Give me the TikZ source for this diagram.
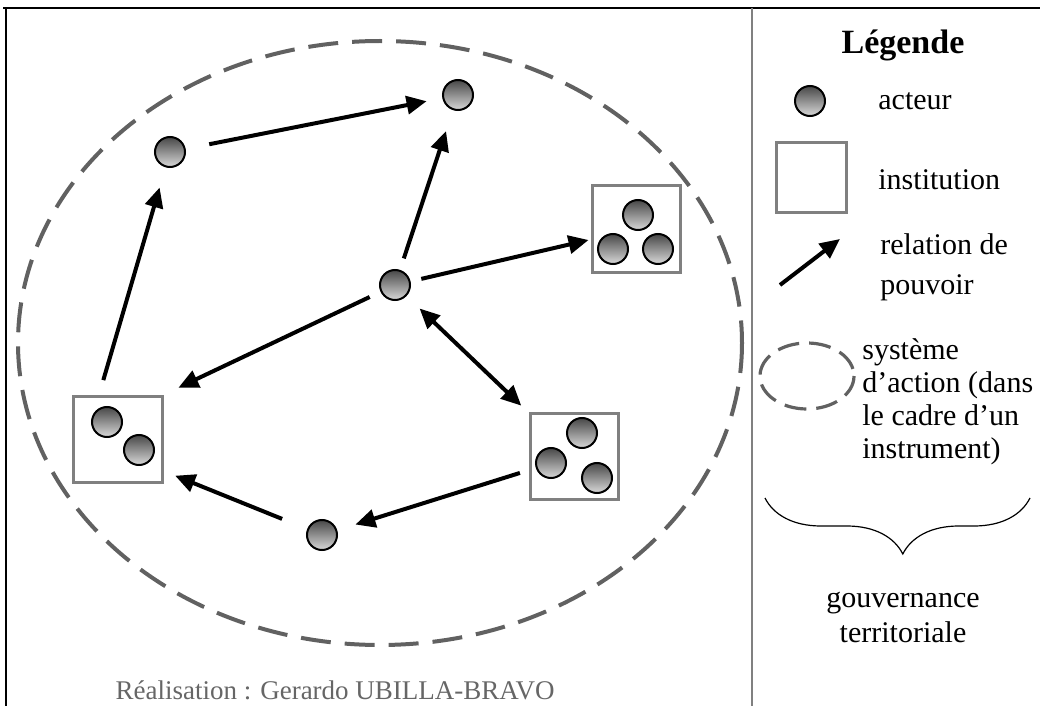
\documentclass[tikz,border=0pt]{standalone}
\usepackage{fontspec}
\setmainfont{Liberation Serif}
\usetikzlibrary{arrows.meta,decorations.pathreplacing}

\begin{document}
\begin{tikzpicture}[
                x=0.5pt, y=-0.5pt,
                >={Triangle[length=10pt,width=9pt]},
                acteur/.style={circle,draw=black,line width=1pt,top color=black!72,bottom color=black!15,minimum size=15pt,inner sep=0pt},
                institution/.style={rectangle,draw=black!50,line width=1.5pt,fill=white,minimum width=44pt,minimum height=43pt,inner sep=0pt},
                pouvoir/.style={line width=2pt,->},
                systeme/.style={draw=black!62,line width=2pt,dash pattern=on 15pt off 7pt},
                legtext/.style={anchor=west,font=\fontsize{15}{16.5}\selectfont,align=left,inner sep=0pt}
            ]
                \useasboundingbox (0,0) rectangle (1040,706);
                \draw[line width=1pt] (3,8) -- (1040,8);
                \draw[line width=1pt] (6,8) -- (6,706);
                \draw[line width=1pt,black!50] (752,8) -- (752,706);

                \draw[systeme] (380,343) ellipse [x radius=362, y radius=302];

                \node[acteur] (a1) at (170,152) {};
                \node[acteur] (a2) at (458,95)  {};
                \node[acteur] (a3) at (395,285) {};
                \node[acteur] (a4) at (322,535) {};

                \node[institution] (i1) at (636,229) {};
                \node[acteur] (i1a) at (638,215) {};
                \node[acteur] (i1b) at (613,249) {};
                \node[acteur] (i1c) at (658,249) {};

                \node[institution,minimum width=44.5pt,minimum height=43pt] (i2) at (118,439) {};
                \node[acteur] (i2a) at (107,422) {};
                \node[acteur] (i2b) at (139,450) {};

                \node[institution] (i3) at (574,456) {};
                \node[acteur] (i3a) at (582,433) {};
                \node[acteur] (i3b) at (551,463) {};
                \node[acteur] (i3c) at (597,478) {};

                \draw[pouvoir,shorten <=12pt,shorten >=8pt] (a1) -- (a2);
                \draw[pouvoir,shorten <=6pt,shorten >=11pt] (a3) -- (a2);
                \draw[pouvoir,shorten <=5.5pt,shorten >=1pt] (a3) -- (i1);
                \draw[pouvoir,shorten <=6pt,shorten >=8pt] (a3) -- (i2.north east);
                \draw[pouvoir,<->,shorten <=9pt,shorten >=5pt] (a3) -- (i3);
                \draw[pouvoir,shorten <=4.5pt,shorten >=9.5pt] (i3) -- (a4);
                \draw[pouvoir,shorten <=13.5pt,shorten >=6pt] (a4) -- (i2.-35);
                \draw[pouvoir,shorten <=7.5pt,shorten >=10.5pt] (i2.113) -- (a1);

                \node[font=\fontsize{17}{20}\selectfont\bfseries] (titre) at (903,45) {Légende};
                \node[acteur] (la) at (810,101) {};
                \node[legtext] (ta) at (878,101) {acteur};
                \node[institution,minimum width=35pt,minimum height=35pt] (li) at (811,178) {};
                \node[legtext] (ti) at (878,180) {institution};
                \coordinate (lp1) at (780,285);
                \coordinate (lp2) at (840,239);
                \draw[pouvoir] (lp1) -- (lp2);
                \node[legtext,font=\fontsize{15}{20}\selectfont] (tp) at (880,267) {relation de\\pouvoir};
                \draw[systeme,line width=1.6pt,dash pattern=on 11pt off 5pt] (807,376) ellipse [x radius=47, y radius=33];
                \node[legtext] (ts) at (862,402) {système\\d’action (dans\\le cadre d’un\\instrument)};
                \draw[decorate,decoration={brace,mirror,amplitude=28pt,aspect=0.52},line width=0.6pt] (765,498) -- (1030,498);
                \node[font=\fontsize{15}{17.5}\selectfont,align=center] (tg) at (903,617) {gouvernance\\territoriale};

                \node[text=black!60,font=\fontsize{13.5}{15}\selectfont] (credit) at (335,690) {Réalisation : Gerardo UBILLA-BRAVO};
            \end{tikzpicture}
\end{document}
